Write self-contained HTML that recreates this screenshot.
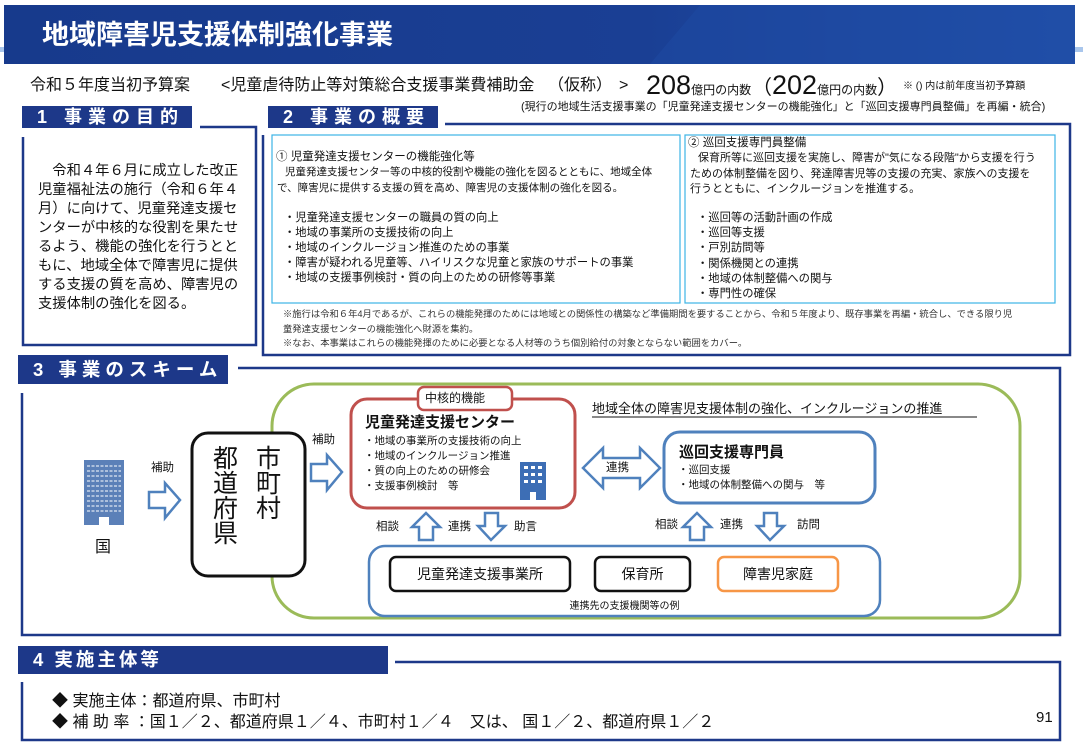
<!DOCTYPE html>
<html><head><meta charset="utf-8"><style>
*{margin:0;padding:0;box-sizing:border-box}
body{width:1083px;height:750px;background:#fff;position:relative;overflow:hidden;font-family:"Liberation Sans","Noto Sans CJK JP",sans-serif;color:#111}
.t{position:absolute;white-space:nowrap}
.h{position:absolute;background:#1d3889;color:#fff;font-weight:bold;white-space:nowrap}
svg{position:absolute;left:0;top:0}
</style></head><body>
<svg width="1083" height="750">
<defs><linearGradient id="g" x1="0" x2="1"><stop offset="0" stop-color="#173a8c"/><stop offset="0.6" stop-color="#1a3f94"/><stop offset="1" stop-color="#2356b0"/></linearGradient></defs>
<rect x="0" y="47" width="1083" height="5" fill="#a9c6ec"/>
<rect x="4" y="5" width="1071" height="59" fill="url(#g)"/>
<polygon points="700,5 1075,5 1075,64 650,64" fill="#1e4aa2" opacity="0.6"/>
<path d="M200,127 H256 V345 H23 V137" fill="none" stroke="#1d3889" stroke-width="2.5"/>
<path d="M445,124 H1070 V355 H263 V135" fill="none" stroke="#1d3889" stroke-width="2.5"/>
<rect x="272" y="135" width="408" height="168" fill="none" stroke="#3cb4e6" stroke-width="1.2"/>
<rect x="685" y="135" width="370" height="168" fill="none" stroke="#3cb4e6" stroke-width="1.2"/>
<path d="M238,368 H1060 V635 H22 V393" fill="none" stroke="#1d3889" stroke-width="2.5"/>
<rect x="272" y="384" width="748" height="234" rx="42" fill="none" stroke="#9bbb59" stroke-width="3"/>
<rect x="84" y="460" width="40" height="65" fill="#5b80b8"/>
<g stroke="#fff" stroke-width="1" stroke-dasharray="3,1.5">
<line x1="87" y1="466" x2="121" y2="466"/><line x1="87" y1="471" x2="121" y2="471"/><line x1="87" y1="476" x2="121" y2="476"/><line x1="87" y1="481" x2="121" y2="481"/><line x1="87" y1="486" x2="121" y2="486"/><line x1="87" y1="491" x2="121" y2="491"/><line x1="87" y1="496" x2="121" y2="496"/><line x1="87" y1="501" x2="121" y2="501"/><line x1="87" y1="506" x2="121" y2="506"/><line x1="87" y1="511" x2="121" y2="511"/></g>
<rect x="99" y="517" width="10" height="8" fill="#fff"/>
<g fill="#fff" stroke="#4f81bd" stroke-width="2.5" stroke-linejoin="miter">
<polygon points="149,492 165,492 165,483 180,500 165,518 165,508 149,508"/>
<polygon points="311,464 327,464 327,455 342,472 327,490 327,481 311,481"/>
<polygon points="583,468 603,448 603,458 640,458 640,448 660,468 640,488 640,478 603,478 603,488"/>
<polygon points="426,513 440,527 433,527 433,540 419,540 419,527 412,527"/>
<polygon points="485,513 498,513 498,526 505,526 491,540 478,526 485,526"/>
<polygon points="697,513 711,527 704,527 704,540 690,540 690,527 683,527"/>
<polygon points="764,513 777,513 777,526 784,526 770,540 757,526 764,526"/>
</g>
<rect x="192" y="433" width="113" height="143" rx="16" fill="#fff" stroke="#111" stroke-width="3"/>
<rect x="351" y="399" width="224" height="109" rx="16" fill="#fff" stroke="#c0504d" stroke-width="3"/>
<rect x="418" y="387" width="94" height="23" rx="6" fill="#fff" stroke="#c0504d" stroke-width="2.5"/>
<rect x="520" y="462" width="26" height="38" fill="#3d6eb5"/>
<g fill="#fff"><rect x="524" y="466" width="4" height="3"/><rect x="531" y="466" width="4" height="3"/><rect x="538" y="466" width="4" height="3"/><rect x="524" y="473" width="4" height="3"/><rect x="531" y="473" width="4" height="3"/><rect x="538" y="473" width="4" height="3"/><rect x="524" y="480" width="4" height="3"/><rect x="531" y="480" width="4" height="3"/><rect x="538" y="480" width="4" height="3"/><rect x="530" y="492" width="6" height="8"/></g>
<rect x="664" y="432" width="211" height="71" rx="16" fill="#fff" stroke="#4f81bd" stroke-width="3"/>
<rect x="369" y="546" width="511" height="70" rx="16" fill="#fff" stroke="#4f81bd" stroke-width="2.5"/>
<rect x="390" y="557" width="180" height="34" rx="6" fill="#fff" stroke="#111" stroke-width="2.5"/>
<rect x="595" y="557" width="95" height="34" rx="6" fill="#fff" stroke="#111" stroke-width="2.5"/>
<rect x="718" y="557" width="120" height="34" rx="6" fill="#fff" stroke="#f79646" stroke-width="2.5"/>
<path d="M395,662 H1060 V740 H22 V682" fill="none" stroke="#1d3889" stroke-width="2.5"/>
<line x1="592" y1="417" x2="977" y2="417" stroke="#111" stroke-width="1"/>
</svg>

<div class="t" style="left:42px;top:19px;font-size:27px;font-weight:bold;color:#fff;line-height:32px">地域障害児支援体制強化事業</div>
<div class="t" style="left:30px;top:76px;font-size:16px;line-height:20px">令和５年度当初予算案</div>
<div class="t" style="left:221px;top:76px;font-size:16px;line-height:20px">&lt;児童虐待防止等対策総合支援事業費補助金</div>
<div class="t" style="left:548px;top:76px;font-size:16px;line-height:20px">（仮称）</div>
<div class="t" style="left:619px;top:76px;font-size:16px;line-height:20px">&gt;</div>
<div class="t" style="left:646px;top:70px;font-size:27px;line-height:30px">208<span style="font-size:12px">億円の内数</span></div>
<div class="t" style="left:752px;top:70px;font-size:27px;line-height:30px"><span style="font-size:20px">（</span>202<span style="font-size:12px">億円の内数</span><span style="font-size:20px">）</span></div>
<div class="t" style="left:903px;top:80px;font-size:10px;line-height:14px">※ () 内は前年度当初予算額</div>
<div class="t" style="left:521px;top:100px;font-size:11px;line-height:14px">(現行の地域生活支援事業の「児童発達支援センターの機能強化」と「巡回支援専門員整備」を再編・統合)</div>

<div class="h" style="left:22px;top:106px;width:170px;height:22px;font-size:18px;line-height:22px;padding-left:15px;letter-spacing:6px">1 事業の目的</div>
<div class="h" style="left:268px;top:106px;width:170px;height:22px;font-size:18px;line-height:22px;padding-left:15px;letter-spacing:6px">2 事業の概要</div>

<div style="position:absolute;left:38px;top:162px;width:206px;font-size:14.3px;line-height:19px;text-indent:1em">令和４年６月に成立した改正児童福祉法の施行（令和６年４月）に向けて、児童発達支援センターが中核的な役割を果たせるよう、機能の強化を行うとともに、地域全体で障害児に提供する支援の質を高め、障害児の支援体制の強化を図る。</div>

<div class="t" style="left:276px;top:150px;font-size:11.5px;line-height:14px">① 児童発達支援センターの機能強化等</div>
<div class="t" style="left:285px;top:165px;font-size:10.5px;line-height:15.5px">児童発達支援センター等の中核的役割や機能の強化を図るとともに、地域全体<br><span style="margin-left:-8px">で、障害児に提供する支援の質を高め、障害児の支援体制の強化を図る。</span></div>
<div class="t" style="left:284px;top:211px;font-size:11.3px;line-height:15px">・児童発達支援センターの職員の質の向上<br>・地域の事業所の支援技術の向上<br>・地域のインクルージョン推進のための事業<br>・障害が疑われる児童等、ハイリスクな児童と家族のサポートの事業<br>・地域の支援事例検討・質の向上のための研修等事業</div>
<div class="t" style="left:688px;top:136px;font-size:11.5px;line-height:14px">② 巡回支援専門員整備</div>
<div class="t" style="left:698px;top:151px;font-size:11px;line-height:15.5px">保育所等に巡回支援を実施し、障害が"気になる段階"から支援を行う<br><span style="margin-left:-8px">ための体制整備を図り、発達障害児等の支援の充実、家族への支援を</span><br><span style="margin-left:-8px">行うとともに、インクルージョンを推進する。</span></div>
<div class="t" style="left:697px;top:211px;font-size:11.3px;line-height:15.2px">・巡回等の活動計画の作成<br>・巡回等支援<br>・戸別訪問等<br>・関係機関との連携<br>・地域の体制整備への関与<br>・専門性の確保</div>
<div class="t" style="left:283px;top:307px;font-size:9.3px;line-height:14.5px;color:#333">※施行は令和６年4月であるが、これらの機能発揮のためには地域との関係性の構築など準備期間を要することから、令和５年度より、既存事業を再編・統合し、できる限り児<br>童発達支援センターの機能強化へ財源を集約。<br>※なお、本事業はこれらの機能発揮のために必要となる人材等のうち個別給付の対象とならない範囲をカバー。</div>

<div class="h" style="left:18px;top:355px;width:210px;height:29px;font-size:18.5px;line-height:29px;padding-left:15px;letter-spacing:5px">3 事業のスキーム</div>

<div class="t" style="left:95px;top:538px;font-size:16px;line-height:20px">国</div>
<div class="t" style="left:151px;top:461px;font-size:11.5px;line-height:14px">補助</div>
<div class="t" style="left:312px;top:433px;font-size:11.5px;line-height:14px">補助</div>
<div class="t" style="left:213px;top:447px;font-size:25px;line-height:25px;width:26px;white-space:normal">都道府県</div>
<div class="t" style="left:256px;top:447px;font-size:25px;line-height:25px;width:26px;white-space:normal">市町村</div>
<div class="t" style="left:425px;top:390px;font-size:12px;line-height:16px">中核的機能</div>
<div class="t" style="left:365px;top:413px;font-size:15px;font-weight:bold;line-height:19px">児童発達支援センター</div>
<div class="t" style="left:364px;top:434px;font-size:10.5px;line-height:15px">・地域の事業所の支援技術の向上<br>・地域のインクルージョン推進<br>・質の向上のための研修会<br>・支援事例検討　等</div>
<div class="t" style="left:606px;top:461px;font-size:11.5px;line-height:14px">連携</div>
<div class="t" style="left:592px;top:401px;font-size:13px;line-height:16px">地域全体の障害児支援体制の強化、インクルージョンの推進</div>
<div class="t" style="left:679px;top:443px;font-size:15px;font-weight:bold;line-height:19px">巡回支援専門員</div>
<div class="t" style="left:678px;top:463px;font-size:10.5px;line-height:15px">・巡回支援<br>・地域の体制整備への関与　等</div>
<div class="t" style="left:376px;top:520px;font-size:11.5px;line-height:14px">相談</div>
<div class="t" style="left:448px;top:520px;font-size:11.5px;line-height:14px">連携</div>
<div class="t" style="left:514px;top:520px;font-size:11.5px;line-height:14px">助言</div>
<div class="t" style="left:655px;top:518px;font-size:11.5px;line-height:14px">相談</div>
<div class="t" style="left:720px;top:518px;font-size:11.5px;line-height:14px">連携</div>
<div class="t" style="left:797px;top:518px;font-size:11.5px;line-height:14px">訪問</div>
<div class="t" style="left:390px;top:565px;width:180px;text-align:center;font-size:14px;line-height:18px">児童発達支援事業所</div>
<div class="t" style="left:595px;top:565px;width:95px;text-align:center;font-size:14px;line-height:18px">保育所</div>
<div class="t" style="left:718px;top:565px;width:120px;text-align:center;font-size:14px;line-height:18px">障害児家庭</div>
<div class="t" style="left:369px;top:600px;width:511px;text-align:center;font-size:10px;line-height:13px">連携先の支援機関等の例</div>

<div class="h" style="left:18px;top:646px;width:370px;height:28px;font-size:18.5px;line-height:28px;padding-left:15px;letter-spacing:3px">4 実施主体等</div>
<div class="t" style="left:52px;top:691px;font-size:16px;line-height:21px">◆ 実施主体：都道府県、市町村<br>◆ 補 助 率 ：国１／２、都道府県１／４、市町村１／４　又は、 国１／２、都道府県１／２</div>
<div class="t" style="left:1036px;top:709px;font-size:15px;line-height:18px">91</div>
</body></html>
